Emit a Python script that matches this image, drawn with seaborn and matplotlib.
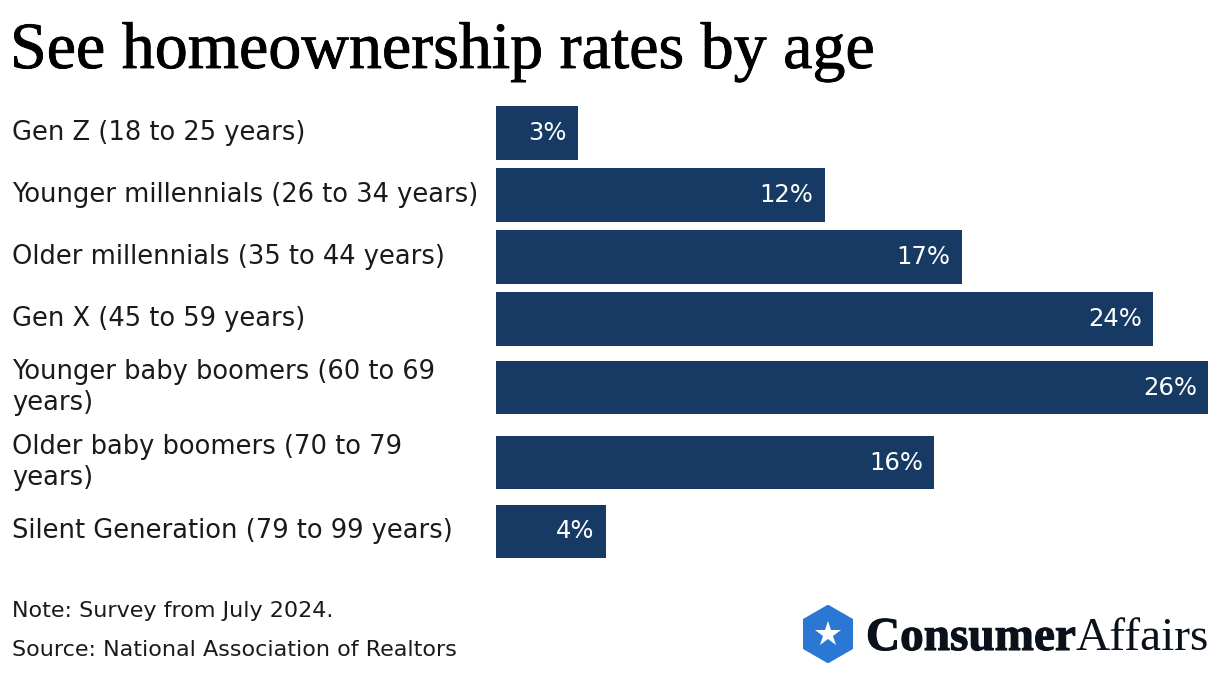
import matplotlib
matplotlib.use("Agg")
import matplotlib.pyplot as plt
import matplotlib.transforms as mtransforms
import matplotlib.patheffects as pe
from matplotlib.patches import RegularPolygon
import numpy as np
import seaborn as sns

# data
groups = [
    "Gen Z (18 to 25 years)",
    "Younger millennials (26 to 34 years)",
    "Older millennials (35 to 44 years)",
    "Gen X (45 to 59 years)",
    "Younger baby boomers (60 to 69\nyears)",
    "Older baby boomers (70 to 79\nyears)",
    "Silent Generation (79 to 99 years)",
]
rates = [3, 12, 17, 24, 26, 16, 4]

title = "See homeownership rates by age"
note = "Note: Survey from July 2024."
source = "Source: National Association of Realtors"

bar_color = "#173a64"
text_color = "#1a1a1a"

sns.set_theme(style="white")
plt.rcParams["font.family"] = ["DejaVu Sans"]

W, H = 1220, 676
fig = plt.figure(figsize=(W / 100, H / 100), dpi=100)
fig.patch.set_facecolor("white")

# rows with wrapped labels get a bit more room
row_h = np.array([1.0 + 0.21 * g.count("\n") for g in groups])
centers = np.cumsum(row_h) - row_h / 2
total = row_h.sum()

ax = fig.add_axes([496 / W, 1 - (102 + total * 62) / H, 712 / W, total * 62 / H])
sns.barplot(x=rates, y=centers, orient="h", native_scale=True, width=0.855,
            color=bar_color, saturation=1, linewidth=0, errorbar=None, ax=ax)
ax.set_xlim(0, 26)
ax.set_ylim(total, 0)
ax.axis("off")

for v, y in zip(rates, centers):
    ax.annotate(f"{v}%", xy=(v, y), xytext=(-8, 0), textcoords="offset points",
                ha="right", va="center", color="white", fontsize=17.5)

trans = mtransforms.blended_transform_factory(fig.transFigure, ax.transData)
for g, y in zip(groups, centers):
    ax.text(12 / W, y, g, transform=trans, ha="left", va="center",
            fontsize=18.5, color=text_color, linespacing=1.25)

fig.text(10 / W, 1 - 68 / H, title, ha="left", va="baseline",
         fontsize=47.5, family=["Liberation Serif"], color="black",
         path_effects=[pe.withStroke(linewidth=0.6, foreground="black")])

fig.text(12 / W, 1 - 611 / H, note, ha="left", va="center", fontsize=16, color=text_color)
fig.text(12 / W, 1 - 650 / H, source, ha="left", va="center", fontsize=16, color=text_color)

# logo
lax = fig.add_axes([803 / W, 1 - 663 / H, 50 / W, 58 / H])
lax.set_xlim(0, 50)
lax.set_ylim(0, 58)
lax.axis("off")
lax.add_patch(RegularPolygon((25, 29), 6, radius=27, facecolor="#2a78d4",
                             edgecolor="#2a78d4", linewidth=3, joinstyle="round"))
lax.plot([25], [29.5], marker="*", markersize=19, color="white", markeredgewidth=0)

t1 = fig.text(866 / W, 1 - 650 / H, "Consumer", ha="left", va="baseline",
              fontsize=34, fontweight="bold", family=["Liberation Serif"], color="#0b111b",
              path_effects=[pe.withStroke(linewidth=0.8, foreground="#0b111b")])
fig.canvas.draw()
bb = t1.get_window_extent()
fig.text(bb.x1 / W, 1 - 650 / H, "Affairs", ha="left", va="baseline",
         fontsize=34, family=["Liberation Serif"], color="#0b111b")

fig.savefig("out.png", dpi=100, facecolor="white")
